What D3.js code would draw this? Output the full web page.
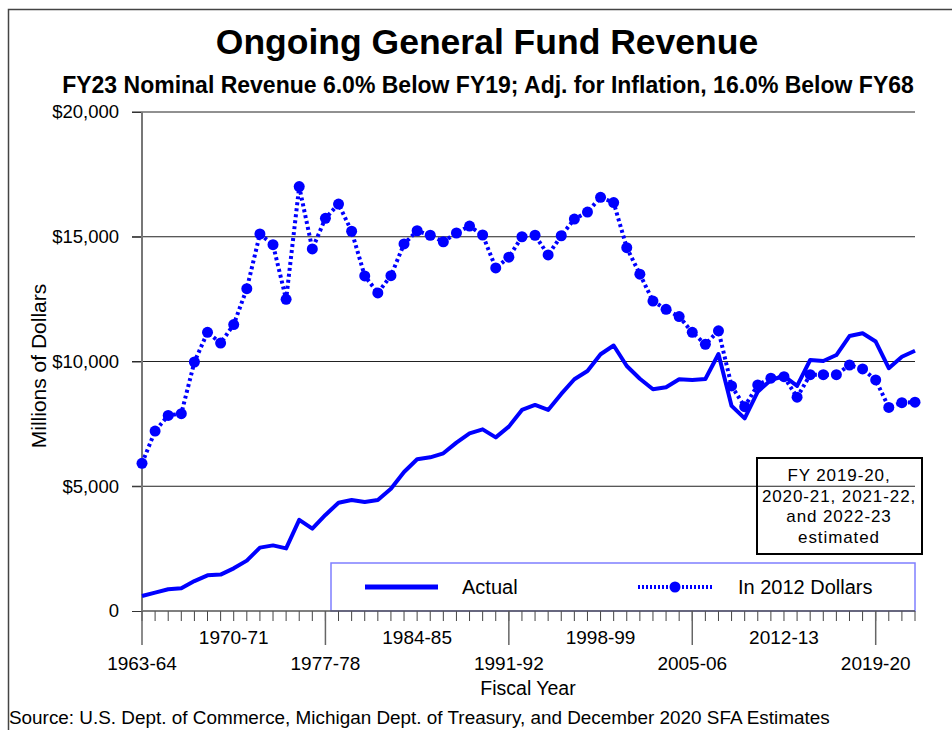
<!DOCTYPE html>
<html>
<head>
	<script src="https://cdn.jsdelivr.net/npm/d3@7"></script>
	<style>
		body { margin: 0; background: #fff; }
		text { font-family: "Liberation Sans", Arial, sans-serif; fill: #000; }
	</style>
</head>
<body>
	<script>
		// fiscal years, 1963-64 .. 2022-23
		var startYear = 1963;
		var nYears = 60;

		var actual = [600, 735, 870, 910, 1200, 1430, 1460, 1710, 2020, 2540,
			2630, 2510, 3650, 3300, 3850, 4340, 4450, 4370, 4450, 4900,
			5570, 6080, 6160, 6320, 6750, 7120, 7280, 6960, 7390, 8060,
			8260, 8060, 8700, 9290, 9620, 10290, 10640, 9820, 9310, 8890,
			8970, 9290, 9260, 9300, 10300, 8220, 7720, 8790, 9260, 9420,
			9020, 10060, 10020, 10260, 11020, 11130, 10800, 9730, 10190, 10430];

		var dollars2012 = [5920, 7210, 7840, 7910, 9980, 11170, 10740, 11480, 12920, 15110,
			14680, 12490, 17010, 14510, 15740, 16310, 15220, 13430, 12750, 13440,
			14710, 15240, 15060, 14800, 15150, 15430, 15070, 13750, 14180, 15000,
			15060, 14270, 15040, 15710, 15990, 16580, 16370, 14560, 13500, 12420,
			12090, 11800, 11170, 10690, 11230, 9020, 8190, 9060, 9330, 9390,
			8570, 9470, 9470, 9470, 9860, 9700, 9260, 8160, 8350, 8370];

		var lowerLabels = ['1963-64', '1977-78', '1991-92', '2005-06', '2019-20'];
		var upperLabels = ['1970-71', '1984-85', '1998-99', '2012-13'];
		var yTicks = [0, 5000, 10000, 15000, 20000];
		var noteLines = ['FY 2019-20,', '2020-21, 2021-22,', 'and 2022-23', 'estimated'];

		var width = 952, height = 730;
		var plotL = 142, plotR = 915, plotT = 112, plotB = 611;
		var blue = '#0000ff';

		var svg = d3.select('body').append('svg')
			.attr('width', width)
			.attr('height', height);

		// outer frame
		svg.append('rect')
			.attr('x', 8.5).attr('y', 9.5)
			.attr('width', 960).attr('height', 740)
			.attr('fill', 'none')
			.attr('stroke', '#444').attr('stroke-width', 1.5);

		var x = d3.scaleLinear().domain([0, nYears - 1]).range([plotL, plotR]);
		var y = d3.scaleLinear().domain([0, 20000]).range([plotB, plotT]);

		function yearIndex(label) {
			return +label.slice(0, 4) - startYear;
		}

		// titles
		svg.append('text')
			.attr('x', 487).attr('y', 54)
			.attr('text-anchor', 'middle')
			.style('font-size', '35.5px').style('font-weight', 'bold')
			.text('Ongoing General Fund Revenue');

		svg.append('text')
			.attr('x', 488).attr('y', 93)
			.attr('text-anchor', 'middle')
			.style('font-size', '23px').style('font-weight', 'bold')
			.text('FY23 Nominal Revenue 6.0% Below FY19; Adj. for Inflation, 16.0% Below FY68');

		// gridlines
		svg.append('g').selectAll('line')
			.data(yTicks.filter(function (d) { return d > 0; }))
			.enter().append('line')
			.attr('x1', plotL - 10).attr('x2', plotR)
			.attr('y1', function (d) { return y(d); })
			.attr('y2', function (d) { return y(d); })
			.attr('stroke', '#222').attr('stroke-width', 1);

		// y axis
		var yAxis = d3.axisLeft(y)
			.tickValues(yTicks)
			.tickSize(10)
			.tickPadding(13)
			.tickFormat(function (d) { return d === 0 ? '0' : '$' + d3.format(',')(d); });

		var gy = svg.append('g')
			.attr('transform', 'translate(' + plotL + ',0)')
			.call(yAxis);
		gy.select('.domain').remove();
		gy.selectAll('.tick line').attr('stroke', '#333');
		gy.selectAll('.tick text')
			.style('font-size', '18.5px')
			.style('font-family', '"Liberation Sans", Arial, sans-serif')
			.attr('fill', '#000');

		svg.append('text')
			.attr('transform', 'translate(46,366) rotate(-90)')
			.attr('text-anchor', 'middle')
			.style('font-size', '21px')
			.text('Millions of Dollars');

		// legend box (drawn under the lines)
		svg.append('rect')
			.attr('x', 331).attr('y', 563)
			.attr('width', plotR - 331).attr('height', plotB - 563)
			.attr('fill', '#fff')
			.attr('stroke', '#7f7fff').attr('stroke-width', 1.5);

		// x axis: minor ticks every year, long ticks every 14 years
		var gx = svg.append('g');
		gx.selectAll('line.minor')
			.data(d3.range(nYears))
			.enter().append('line')
			.attr('class', 'minor')
			.attr('x1', function (d) { return x(d); })
			.attr('x2', function (d) { return x(d); })
			.attr('y1', plotB).attr('y2', plotB + 10)
			.attr('stroke', '#444').attr('stroke-width', 1);

		gx.selectAll('line.major')
			.data(lowerLabels)
			.enter().append('line')
			.attr('class', 'major')
			.attr('x1', function (d) { return x(yearIndex(d)); })
			.attr('x2', function (d) { return x(yearIndex(d)); })
			.attr('y1', plotB).attr('y2', plotB + 34)
			.attr('stroke', '#666').attr('stroke-width', 1.5);

		gx.append('line')
			.attr('x1', plotL).attr('x2', plotR)
			.attr('y1', plotB).attr('y2', plotB)
			.attr('stroke', '#555').attr('stroke-width', 1.5);

		// y axis line
		svg.append('line')
			.attr('x1', plotL).attr('x2', plotL)
			.attr('y1', plotT).attr('y2', plotB)
			.attr('stroke', '#777').attr('stroke-width', 2);

		gx.selectAll('text.upper')
			.data(upperLabels)
			.enter().append('text')
			.attr('class', 'upper')
			.attr('x', function (d) { return x(yearIndex(d)); })
			.attr('y', 644)
			.attr('text-anchor', 'middle')
			.style('font-size', '19px')
			.text(function (d) { return d; });

		gx.selectAll('text.lower')
			.data(lowerLabels)
			.enter().append('text')
			.attr('class', 'lower')
			.attr('x', function (d) { return x(yearIndex(d)); })
			.attr('y', 670)
			.attr('text-anchor', 'middle')
			.style('font-size', '19px')
			.text(function (d) { return d; });

		svg.append('text')
			.attr('x', 528).attr('y', 695)
			.attr('text-anchor', 'middle')
			.style('font-size', '19.5px')
			.text('Fiscal Year');

		svg.append('text')
			.attr('x', 9).attr('y', 724)
			.style('font-size', '18.9px')
			.text('Source: U.S. Dept. of Commerce, Michigan Dept. of Treasury, and December 2020 SFA Estimates');

		// series
		var line = d3.line()
			.x(function (d, i) { return x(i); })
			.y(function (d) { return y(d); });

		svg.append('path')
			.datum(dollars2012)
			.attr('d', line)
			.attr('fill', 'none')
			.attr('stroke', blue)
			.attr('stroke-width', 4)
			.attr('stroke-dasharray', '3,3');

		svg.append('g').selectAll('circle')
			.data(dollars2012)
			.enter().append('circle')
			.attr('cx', function (d, i) { return x(i); })
			.attr('cy', function (d) { return y(d); })
			.attr('r', 5.5)
			.attr('fill', blue);

		svg.append('path')
			.datum(actual)
			.attr('d', line)
			.attr('fill', 'none')
			.attr('stroke', blue)
			.attr('stroke-width', 4)
			.attr('stroke-linejoin', 'round');

		// legend entries
		svg.append('line')
			.attr('x1', 365).attr('x2', 438)
			.attr('y1', 587).attr('y2', 587)
			.attr('stroke', blue).attr('stroke-width', 5);
		svg.append('text')
			.attr('x', 462).attr('y', 594)
			.style('font-size', '20px')
			.text('Actual');

		svg.append('line')
			.attr('x1', 638).attr('x2', 712)
			.attr('y1', 587).attr('y2', 587)
			.attr('stroke', blue).attr('stroke-width', 4)
			.attr('stroke-dasharray', '2,2');
		svg.append('circle')
			.attr('cx', 675).attr('cy', 587).attr('r', 5.5)
			.attr('fill', blue);
		svg.append('text')
			.attr('x', 738).attr('y', 594)
			.style('font-size', '20px')
			.text('In 2012 Dollars');

		// estimate note
		svg.append('rect')
			.attr('x', 757).attr('y', 458)
			.attr('width', 165).attr('height', 96)
			.attr('fill', 'none')
			.attr('stroke', '#000').attr('stroke-width', 2);

		svg.append('g').selectAll('text')
			.data(noteLines)
			.enter().append('text')
			.attr('x', 839)
			.attr('y', function (d, i) { return 481 + i * 20.5; })
			.attr('text-anchor', 'middle')
			.style('font-size', '17px')
			.style('letter-spacing', '0.9px')
			.text(function (d) { return d; });
	</script>
</body>
</html>
